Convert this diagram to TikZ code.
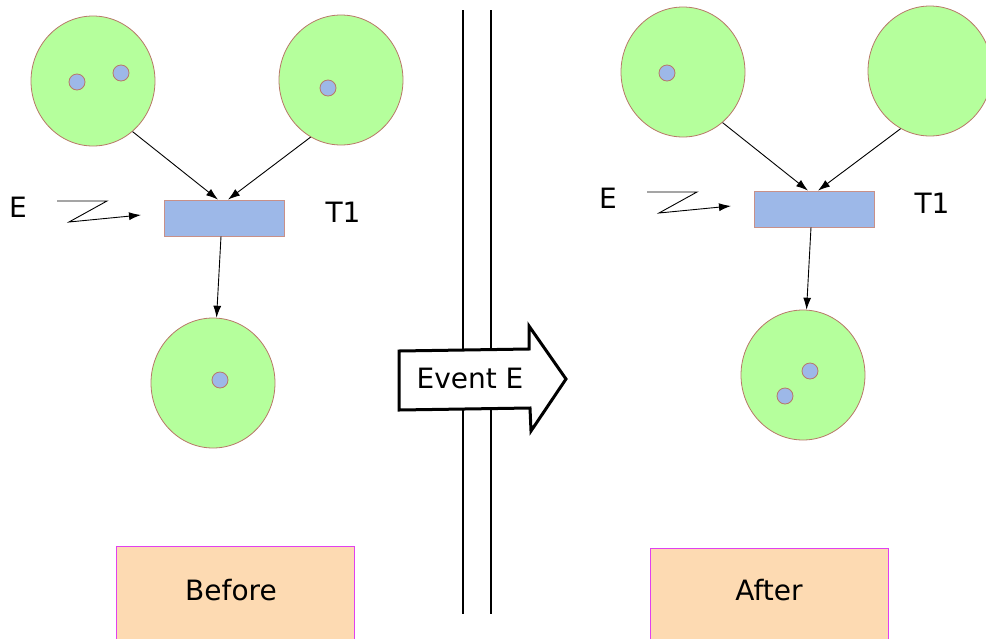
\documentclass[tikz,border=0pt]{standalone}
\usepackage{fontspec}
\setmainfont{DejaVu Sans}
\usetikzlibrary{shapes.geometric,arrows.meta}
\definecolor{placefill}{HTML}{B5FF9C}
\definecolor{placeline}{HTML}{B87868}
\definecolor{tokfill}{HTML}{9DB8E8}
\definecolor{transline}{HTML}{C89088}
\definecolor{boxfill}{HTML}{FDDAB2}
\definecolor{boxline}{HTML}{E040F0}
\tikzset{
  place/.style={ellipse,draw=placeline,fill=placefill,line width=0.8pt,minimum width=124pt,minimum height=130pt,inner sep=0pt},
  token/.style={circle,draw=placeline,fill=tokfill,line width=0.8pt,minimum size=16pt,inner sep=0pt},
  trans/.style={rectangle,draw=transline,fill=tokfill,line width=0.8pt,minimum width=120pt,minimum height=36pt,inner sep=0pt},
  lbl/.style={font=\fontsize{28}{32}\selectfont,inner sep=0pt},
  arc/.style={line width=0.9pt,-{Latex[length=12pt,width=8pt]}},
  statebox/.style={rectangle,draw=boxline,fill=boxfill,line width=0.9pt,minimum width=238pt,minimum height=100pt,inner sep=0pt,anchor=north west},
  rail/.style={line width=1.4pt}
}
\begin{document}
\begin{tikzpicture}[x=1pt,y=-1pt]
\useasboundingbox (0,0) rectangle (986,638);
\clip (0,0) rectangle (986,638);
% rails
\draw[rail] (463,10) -- (463,614);
\draw[rail] (491,10) -- (491,614);
% big arrow
\draw[line width=3pt,fill=white,line join=miter] (399,351) -- (529,349) -- (529,326) -- (566,379) -- (531,431) -- (530,408) -- (399,410) -- cycle;
\node[lbl] (ev) at (470,378) {Event E};
% ---- Before ----
\node[place] (p1) at (93,81) {};
\node[token] (k1a) at (77,82) {};
\node[token] (k1b) at (121,73) {};
\node[place] (p2) at (341,80) {};
\node[token] (k2) at (328,88) {};
\node[place] (p3) at (213,383) {};
\node[token] (k3) at (220,380) {};
\node[trans] (t1) at (224,218) {};
\draw[arc] (p1.-52) -- ([xshift=-6pt]t1.north);
\draw[arc] (p2.-118) -- ([xshift=4pt]t1.north);
\draw[arc] ([xshift=-3pt]t1.south) -- (p3);
\node[lbl] (e1) at (18,207) {E};
\node[lbl] (tl1) at (343,212) {T1};
\coordinate (z1a) at (57,201);
\coordinate (z1b) at (107,201);
\coordinate (z1c) at (69,222);
\coordinate (z1d) at (141,215);
\draw[arc] (z1a) -- (z1b) -- (z1c) -- (z1d);
\node[statebox] (before) at (116,546) {};
\node[lbl] (bt) at (231,590) {Before};
% ---- After ----
\node[place] (p4) at (683,72) {};
\node[token] (k4) at (667,73) {};
\node[place] (p5) at (930,71) {};
\node[place] (p6) at (803,375) {};
\node[token] (k6a) at (810,371) {};
\node[token] (k6b) at (785,396) {};
\node[trans] (t2) at (814,209) {};
\draw[arc] (p4.-52) -- ([xshift=-6pt]t2.north);
\draw[arc] (p5.-117) -- ([xshift=4pt]t2.north);
\draw[arc] ([xshift=-3pt]t2.south) -- (p6);
\node[lbl] (e2) at (608,198) {E};
\node[lbl] (tl2) at (932,203) {T1};
\coordinate (z2a) at (647,192);
\coordinate (z2b) at (697,192);
\coordinate (z2c) at (659,213);
\coordinate (z2d) at (731,206);
\draw[arc] (z2a) -- (z2b) -- (z2c) -- (z2d);
\node[statebox] (after) at (650,548) {};
\node[lbl] (at) at (769,590) {After};
\end{tikzpicture}
\end{document}
